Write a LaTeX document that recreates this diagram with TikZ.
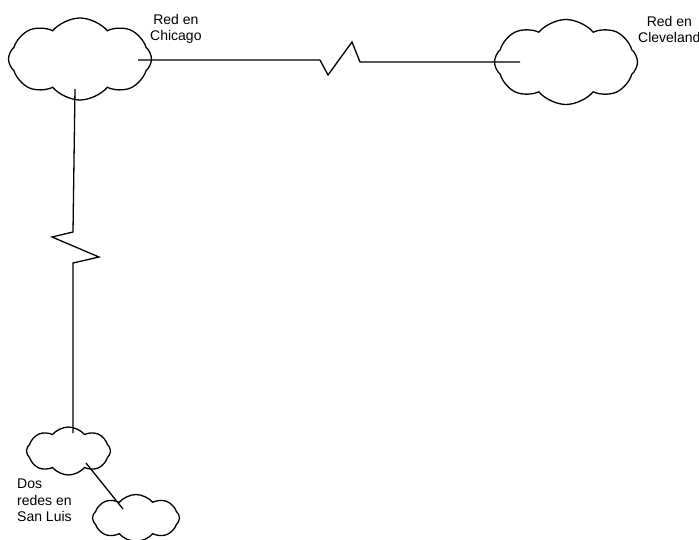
\documentclass[tikz,border=0pt]{standalone}
\usepackage{fontspec}
\setmainfont{Liberation Sans}
\usetikzlibrary{shapes.symbols}
\begin{document}
\begin{tikzpicture}[x=1pt,y=-1pt,
  net/.style={cloud, draw, cloud puffs=8, cloud puff arc=100, inner sep=0pt, line width=1.3pt},
  link/.style={line width=1.3pt, line join=miter},
  lbl/.style={font=\fontsize{14}{16.5}\selectfont, align=center, inner sep=0pt, anchor=north west}]
\useasboundingbox (0,0) rectangle (699,539);
\node[net, minimum width=143pt, minimum height=82pt] (chi) at (80,59) {};
\node[net, minimum width=143pt, minimum height=85pt] (cle) at (566,62) {};
\node[net, minimum width=84pt, minimum height=48pt] (sl1) at (68.5,451) {};
\node[net, minimum width=87pt, minimum height=47pt] (sl2) at (136,518) {};
\coordinate (chiE) at (138,60);
\coordinate (cleW) at (520,62);
\coordinate (chiS) at (75,89);
\coordinate (sl1N) at (73,433);
\coordinate (sl1S) at (86,463);
\coordinate (sl2N) at (123,509);
\draw[link] (chiE) -- (320,60) -- (328,75) -- (352,42) -- (360,62) -- (cleW);
\draw[link] (chiS) -- (73,232) -- (52,237) -- (99,257) -- (73,263) -- (sl1N);
\draw[link] (sl1S) -- (sl2N);
\node[lbl] (tchi) at (150,14) {Red en\\Chicago};
\node[lbl] (tcle) at (638,16) {Red en\\Cleveland};
\node[lbl, align=left] (tsl) at (17,479) {Dos\\redes en\\San Luis};
\end{tikzpicture}
\end{document}
